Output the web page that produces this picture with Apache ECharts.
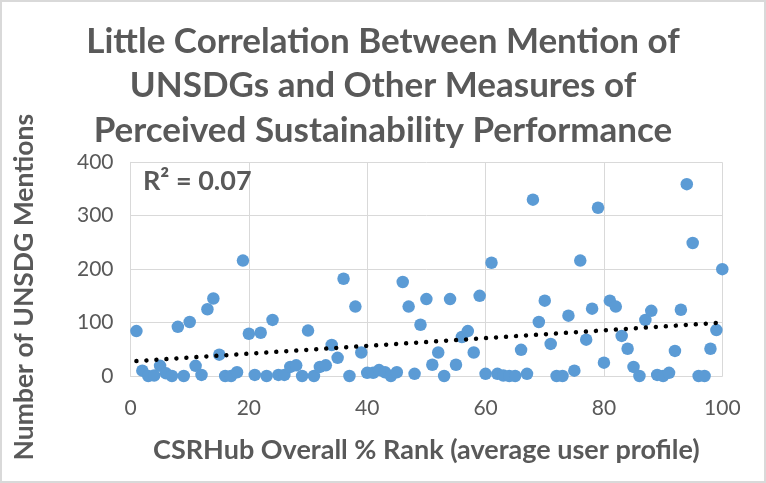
<!DOCTYPE html>
<html>
<head>
<meta charset="utf-8">
<title>UNSDG mentions vs CSRHub rank</title>
<script src="https://cdn.jsdelivr.net/npm/echarts@6/dist/echarts.min.js"></script>
<style>
html, body { margin: 0; padding: 0; background: #fff; }
#chart_a { width: 766px; height: 483px; }
</style>
</head>
<body>
<div id="chart_a"></div>
<script>
// CSRHub overall % rank (x) and number of UNSDG mentions (y)
var rankX = [1, 2, 3, 4, 5, 6, 7, 8, 9, 10,
	11, 12, 13, 14, 15, 16, 17, 18, 19, 20,
	21, 22, 23, 24, 25, 26, 27, 28, 29, 30,
	31, 32, 33, 34, 35, 36, 37, 38, 39, 40,
	41, 42, 43, 44, 45, 46, 47, 48, 49, 50,
	51, 52, 53, 54, 55, 56, 57, 58, 59, 60,
	61, 62, 63, 64, 65, 66, 67, 68, 69, 70,
	71, 72, 73, 74, 75, 76, 77, 78, 79, 80,
	81, 82, 83, 84, 85, 86, 87, 88, 89, 90,
	91, 92, 93, 94, 95, 96, 97, 98, 99, 100];
var mentionsY = [84, 10, 0, 1, 19, 5, 0, 92, 0, 101,
	19, 2, 125, 145, 40, 0, 0, 7, 216, 79,
	2, 81, 0, 105, 2, 2, 17, 20, 0, 85,
	0, 17, 20, 58, 34, 182, 0, 130, 44, 6,
	6, 11, 7, 0, 7, 176, 130, 4, 96, 144,
	21, 44, 0, 144, 21, 73, 84, 44, 150, 4,
	212, 4, 1, 0, 0, 49, 4, 330, 101, 141,
	60, 0, 0, 113, 10, 216, 68, 126, 315, 25,
	141, 130, 75, 51, 17, 0, 105, 122, 2, 0,
	6, 47, 124, 359, 249, 0, 0, 51, 86, 200];
// linear trendline ends as drawn in the picture
var trendX = [1, 100];
var trendY = [28, 100];
var xTicks = [0, 20, 40, 60, 80, 100];
var yTicks = [0, 100, 200, 300, 400];
var rSquared = '0.07';

var textColor = '#595959';
var gridColor = '#d9d9d9';
var fontName = 'Lato, "Open Sans", sans-serif';

var scatterData = [];
for (var i = 0; i < rankX.length; i++) {
	scatterData.push([rankX[i], mentionsY[i]]);
}
var trendData = [];
for (var j = 0; j < trendX.length; j++) {
	trendData.push([trendX[j], trendY[j]]);
}

var mychart1 = echarts.init(document.getElementById('chart_a'), null, {renderer: 'canvas'});

var option1 = {
	backgroundColor: '#fff',
	animation: false,
	title: {
		text: 'Little Correlation Between Mention of\nUNSDGs and Other Measures of\nPerceived Sustainability Performance',
		left: 'center',
		top: 14,
		textStyle: {
			color: textColor,
			fontFamily: fontName,
			fontWeight: 'bold',
			fontSize: 35,
			lineHeight: 44.5
		}
	},
	graphic: [{
		type: 'rect',
		shape: {x: 1, y: 1, width: 764, height: 481},
		style: {fill: 'none', stroke: gridColor, lineWidth: 2},
		silent: true
	}, {
		type: 'text',
		left: 143,
		top: 168,
		style: {
			text: 'R² = ' + rSquared,
			fill: textColor,
			font: 'bold 27px ' + fontName
		},
		z: 10
	}],
	grid: {
		left: 130.5,
		right: 43.7,
		top: 162.3,
		bottom: 107,
		containLabel: false
	},
	xAxis: {
		type: 'value',
		min: xTicks[0],
		max: xTicks[xTicks.length - 1],
		interval: 20,
		name: 'CSRHub Overall % Rank (average user profile)',
		nameLocation: 'middle',
		nameGap: 61,
		nameTextStyle: {
			color: textColor,
			fontFamily: fontName,
			fontWeight: 'bold',
			fontSize: 27
		},
		axisLine: {show: true, lineStyle: {color: gridColor, width: 1}},
		axisTick: {show: false},
		axisLabel: {color: textColor, fontFamily: fontName, fontSize: 21, margin: 22},
		splitLine: {show: true, lineStyle: {color: gridColor, width: 1}}
	},
	yAxis: {
		type: 'value',
		min: yTicks[0],
		max: yTicks[yTicks.length - 1],
		interval: 100,
		name: 'Number of UNSDG Mentions',
		nameLocation: 'middle',
		nameGap: 93,
		nameTextStyle: {
			color: textColor,
			fontFamily: fontName,
			fontWeight: 'bold',
			fontSize: 26.5,
			padding: [0, 36, 0, 0]
		},
		axisLine: {show: true, lineStyle: {color: gridColor, width: 1}},
		axisTick: {show: false},
		axisLabel: {color: textColor, fontFamily: fontName, fontSize: 21, margin: 17},
		splitLine: {show: true, lineStyle: {color: gridColor, width: 1}}
	},
	series: [{
		name: 'Mentions',
		type: 'scatter',
		symbol: 'circle',
		symbolSize: 12.5,
		itemStyle: {color: '#5b9bd5', opacity: 1},
		data: scatterData,
		z: 2
	}, {
		name: 'Linear trend',
		type: 'line',
		symbol: 'none',
		silent: true,
		lineStyle: {
			color: '#000',
			width: 4.5,
			type: [0.01, 10],
			cap: 'round'
		},
		data: trendData,
		z: 3
	}]
};
mychart1.setOption(option1, true);
</script>
</body>
</html>
